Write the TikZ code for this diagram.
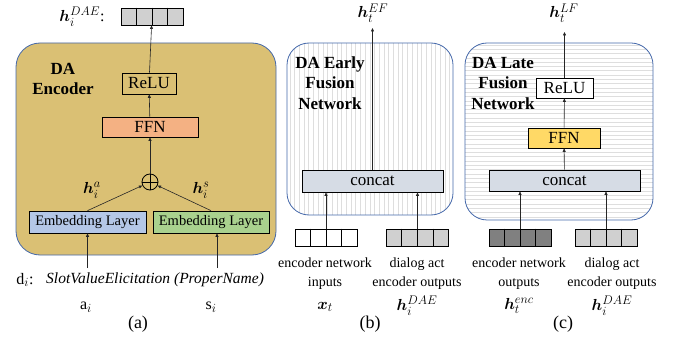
\RequirePackage{fix-cm}
\documentclass[tikz,border=0pt]{standalone}
\usepackage{amsmath,bm}
\usepackage{fontspec}
\setmainfont{Liberation Serif}
\usetikzlibrary{arrows.meta,calc}
\DeclareMathSizes{16}{16}{12.5}{10}
\definecolor{panelblue}{RGB}{68,104,170}
\definecolor{tanc}{RGB}{218,192,116}
\definecolor{salmon}{RGB}{244,177,131}
\definecolor{embblue}{RGB}{180,199,231}
\definecolor{embgreen}{RGB}{169,209,142}
\definecolor{concatc}{RGB}{214,220,229}
\definecolor{cellgray}{RGB}{208,208,208}
\definecolor{celldark}{RGB}{128,128,128}
\definecolor{ffnyellow}{RGB}{255,217,102}
\definecolor{stripec}{RGB}{222,222,222}
\newcommand\mycelldiv[1]{\foreach \k in {1,2,3} {\draw[line width=0.8pt] ($(#1.north west)!\k/4!(#1.north east)$) -- ($(#1.south west)!\k/4!(#1.south east)$);}}
\begin{document}
\begin{tikzpicture}[x=1pt,y=-1pt,
  panel/.style={draw=panelblue, line width=0.8pt},
  blk/.style={draw=black, line width=0.7pt, inner sep=0pt, font=\fontsize{17}{20}\selectfont},
  lbl/.style={font=\fontsize{14}{19}\selectfont, align=center, inner sep=0pt},
  mlbl/.style={font=\fontsize{16}{18}\selectfont, inner sep=0pt},
  ttl/.style={font=\fontsize{17}{20.5}\selectfont\bfseries, align=center, inner sep=0pt},
  captxt/.style={font=\fontsize{18}{20}\selectfont, inner sep=0pt},
  arr/.style={-{Triangle[length=3.5pt,width=3pt]}, line width=0.6pt, draw=black!85},
  stripe/.style={draw=stripec, line width=0.7pt},
  cellrow/.style={draw=black, line width=0.8pt, minimum width=62pt, minimum height=17pt, inner sep=0pt}
]
\useasboundingbox (0,0) rectangle (688,339);

% ---------- panel (a)
\fill[tanc, rounded corners=24pt] (16,43) rectangle (276,255);
\draw[panel, rounded corners=24pt] (16,43) rectangle (276,255);
\node[ttl] (ta) at (63,79) {DA\\Encoder};
\node[cellrow, fill=cellgray] (cellsA) at (152,16.5) {};
\mycelldiv{cellsA}
\node[mlbl] (lDAEa) at (82,17) {$\bm{h}_i^{DAE}$:};
\node[blk, minimum width=54pt, minimum height=21pt] (relua) at (149,83.5) {ReLU};
\node[blk, fill=salmon, minimum width=96pt, minimum height=20pt] (ffna) at (150,127) {FFN};
\node[draw=black, line width=0.8pt, circle, minimum size=16pt, inner sep=0pt] (plus) at (150,182) {};
\draw[line width=0.8pt] (plus.north) -- (plus.south) (plus.west) -- (plus.east);
\node[blk, fill=embblue, minimum width=117pt, minimum height=22pt, font=\fontsize{14.5}{17}\selectfont] (embA) at (87.5,222) {Embedding Layer};
\node[blk, fill=embgreen, minimum width=116pt, minimum height=22pt, font=\fontsize{14.5}{17}\selectfont] (embS) at (211,222) {Embedding Layer};
\node[mlbl] (lha) at (92,190) {$\bm{h}_i^{a}$};
\node[mlbl] (lhs) at (201,190) {$\bm{h}_i^{s}$};
\draw[arr] (embA.north) -- (plus);
\draw[arr] (embS.north) -- (plus);
\draw[arr] (plus) -- (ffna);
\draw[arr] (ffna) -- (relua);
\draw[arr] (relua) -- (cellsA);
\coordinate (ina) at (87.5,268);
\coordinate (ins) at (217,268);
\draw[arr] (ina) -- (embA.south);
\draw[arr] (ins) -- (ins |- embS.south);
\node[mlbl] (di) at (25,280) {$\mathrm{d}_i$:};
\node[mlbl, anchor=west, font=\fontsize{15.5}{18}\selectfont] (sve) at (46,280) {\textit{SlotValueElicitation (ProperName)}};
\node[mlbl] (ai) at (86,307) {$\mathrm{a}_i$};
\node[mlbl] (si) at (211,307) {$\mathrm{s}_i$};
\node[captxt] (capa) at (138,324) {(a)};

% ---------- panel (b)
\begin{scope}
\clip[rounded corners=22pt] (287,43) rectangle (453,215);
\foreach \x in {290,294.7,...,453} {\draw[stripe] (\x,43) -- (\x,215);}
\end{scope}
\draw[panel, rounded corners=22pt] (287,43) rectangle (453,215);
\node[ttl] (tb) at (330,83) {DA Early\\Fusion\\Network};
\node[blk, fill=concatc, minimum width=141pt, minimum height=22pt] (concatb) at (372.5,181) {concat};
\coordinate (outb) at (372.5,28);
\draw[arr] (concatb) -- (outb);
\node[mlbl] (hEF) at (373,13) {$\bm{h}_t^{EF}$};
\node[cellrow, fill=white] (cellsX) at (326,237.5) {};
\mycelldiv{cellsX}
\node[cellrow, fill=cellgray] (cellsH) at (417.5,237.5) {};
\mycelldiv{cellsH}
\draw[arr] (cellsX.north) -- (cellsX.north |- concatb.south);
\draw[arr] (cellsH.north) -- (cellsH.north |- concatb.south);
\node[lbl] (lx) at (325,273.5) {encoder network\\inputs};
\node[mlbl] (xt) at (325,307) {$\bm{x}_t$};
\node[lbl] (lhb) at (417,273.5) {dialog act\\encoder outputs};
\node[mlbl] (hDAEb) at (417,306) {$\bm{h}_i^{DAE}$};
\node[captxt] (capb) at (370,324) {(b)};

% ---------- panel (c)
\begin{scope}
\clip[rounded corners=22pt] (465,43) rectangle (653,220);
\foreach \y in {45,49.3,...,220} {\draw[stripe] (465,\y) -- (653,\y);}
\end{scope}
\draw[panel, rounded corners=22pt] (465,43) rectangle (653,220);
\node[ttl] (tc) at (503,83) {DA Late\\Fusion\\Network};
\node[blk, fill=white, minimum width=57pt, minimum height=20pt] (reluc) at (564.5,88) {ReLU};
\node[blk, fill=ffnyellow, minimum width=72pt, minimum height=20pt] (ffnc) at (564,138) {FFN};
\node[blk, fill=concatc, minimum width=151pt, minimum height=21pt] (concatcc) at (564.5,180.5) {concat};
\coordinate (outc) at (564.5,32);
\draw[arr] (concatcc) -- (ffnc);
\draw[arr] (ffnc) -- (reluc);
\draw[arr] (reluc) -- (outc);
\node[mlbl] (hLF) at (564,13) {$\bm{h}_t^{LF}$};
\node[cellrow, fill=celldark] (cellsE) at (520,237.5) {};
\mycelldiv{cellsE}
\node[cellrow, fill=cellgray] (cellsD) at (606,237.5) {};
\mycelldiv{cellsD}
\draw[arr] (cellsE.north) -- (cellsE.north |- concatcc.south);
\draw[arr] (cellsD.north) -- (cellsD.north |- concatcc.south);
\node[lbl] (le) at (519,274) {encoder network\\outputs};
\node[mlbl] (henc) at (519,306) {$\bm{h}_t^{enc}$};
\node[lbl] (ld) at (612,274) {dialog act\\encoder outputs};
\node[mlbl] (hDAEc) at (612,306) {$\bm{h}_i^{DAE}$};
\node[captxt] (capc) at (563,324) {(c)};
\end{tikzpicture}
\end{document}
